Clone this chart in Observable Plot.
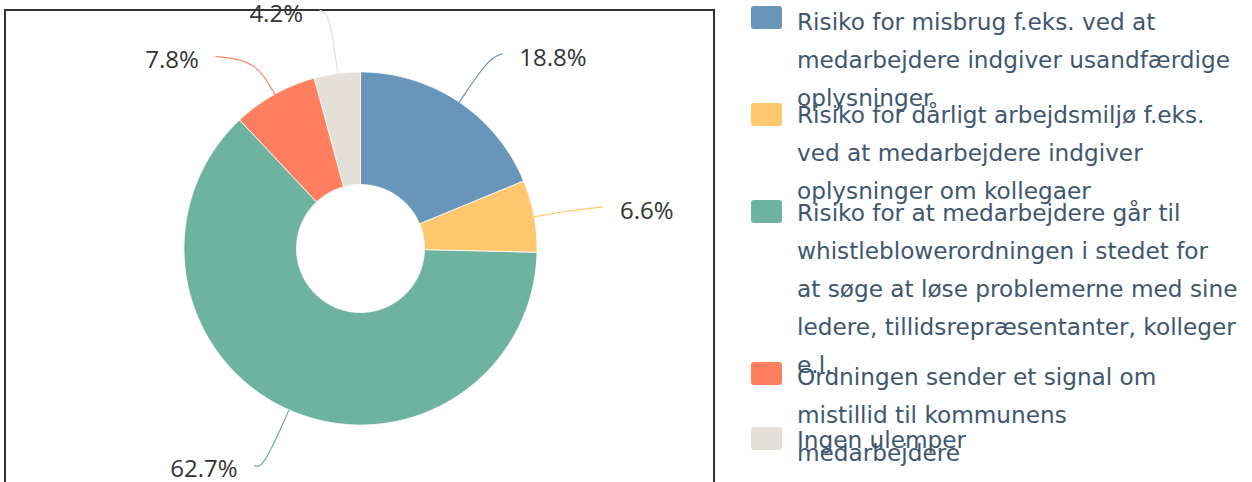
<!DOCTYPE html>
<html><head><meta charset="utf-8">
<script src="https://cdn.jsdelivr.net/npm/d3@7"></script>
<script src="https://cdn.jsdelivr.net/npm/@observablehq/plot@0.6"></script>
<style>
html,body{margin:0;padding:0;background:#fff;overflow:hidden}
#wrap{position:relative;width:1252px;height:482px}
#box{position:absolute;left:4px;top:9px;width:711px;height:480px;border:2px solid #333;border-bottom:none;box-sizing:border-box}
#chart{position:absolute;left:0;top:0}
#legend{position:absolute;left:0;top:0;width:1252px;height:482px;font-family:"DejaVu Sans";font-size:23.2px;color:#3e576f}
.item{position:absolute;left:797px;line-height:38px;white-space:pre}
.sw{position:absolute;left:751px;width:31px;height:23px;border-radius:3px}
</style></head><body><div id="wrap"><div id="box"></div><div id="chart"></div><div id="legend"></div></div>
<script>
const categories = [
 "Risiko for misbrug f.eks. ved at\nmedarbejdere indgiver usandfærdige\noplysninger",
 "Risiko for dårligt arbejdsmiljø f.eks.\nved at medarbejdere indgiver\noplysninger om kollegaer",
 "Risiko for at medarbejdere går til\nwhistleblowerordningen i stedet for\nat søge at løse problemerne med sine\nledere, tillidsrepræsentanter, kolleger\ne.l.",
 "Ordningen sender et signal om\nmistillid til kommunens\nmedarbejdere",
 "Ingen ulemper"
];
const values = [18.8, 6.6, 62.7, 7.8, 4.2];
const colors = ["#6896ba", "#ffc86e", "#6eb3a0", "#ff7f60", "#e4e0d8"];

// layout
const W = 722, H = 482, cx = 360.5, cy = 248.5, R = 176.5, k = R;
const rIn = 64 / R;
const D = 236, labelCy = cy + 5, minGap = 46, yMin = 14, yMax = 470;

const rows = categories.map((c, i) => ({cat: c, value: values[i], label: values[i].toFixed(1) + "%"}));
const arcs = d3.pie().sort(null).value(d => d.value)(rows);

const ring = [];
for (const a of arcs) {
  const n = Math.max(2, Math.ceil((a.endAngle - a.startAngle) / 0.01));
  for (let j = 0; j <= n; j++) {
    const t = a.startAngle + (a.endAngle - a.startAngle) * j / n;
    ring.push({cat: a.data.cat, x1: Math.sin(t), y1: Math.cos(t), x2: rIn * Math.sin(t), y2: rIn * Math.cos(t)});
  }
}

// data labels (pixel space), with simple collision spreading
const labs = arcs.map(a => {
  const m = (a.startAngle + a.endAngle) / 2;
  const s = Math.sin(m) >= 0 ? 1 : -1;
  return {cat: a.data.cat, label: a.data.label, m, s, y: labelCy - D * Math.cos(m)};
});
for (const side of [1, -1]) {
  const L = labs.filter(d => d.s === side).sort((a, b) => a.y - b.y);
  for (let it = 0; it < 10; it++) {
    for (let i = 1; i < L.length; i++) {
      const gap = L[i].y - L[i - 1].y;
      if (gap < minGap) { const h = (minGap - gap) / 2; L[i - 1].y -= h; L[i].y += h; }
    }
  }
  for (const d of L) d.y = Math.max(yMin, Math.min(yMax, d.y));
  for (let i = 1; i < L.length; i++) L[i].y = Math.max(L[i].y, L[i - 1].y + minGap);
}
const conn = [];
for (const d of labs) {
  const dy = d.y - labelCy;
  const ax = Math.abs(dy) < D ? cx + d.s * Math.sqrt(D * D - dy * dy) : cx + D * Math.sin(d.m);
  const uy = (cy - d.y) / k;
  let t = uy / Math.cos(d.m);
  if (!(t > 1.05)) t = 1.05;
  d.tx = (ax + d.s * 27 - cx) / k;
  d.ty = uy;
  conn.push({cat: d.cat, x: Math.sin(d.m), y: Math.cos(d.m)});
  conn.push({cat: d.cat, x: t * Math.sin(d.m), y: uy});
  conn.push({cat: d.cat, x: (ax + d.s * 10 - cx) / k, y: uy + 4 / k});
}

const textOpts = {x: "tx", y: "ty", text: "label", fontSize: 24, fontFamily: "Open Sans", fill: "#333"};
const chart = Plot.plot({
  width: W, height: H, margin: 0,
  x: {domain: [-1, 1], range: [cx - R, cx + R], axis: null},
  y: {domain: [-1, 1], range: [cy + R, cy - R], axis: null},
  color: {domain: categories, range: colors},
  style: {background: "transparent", overflow: "visible"},
  marks: [
    Plot.area(ring, {x1: "x1", y1: "y1", x2: "x2", y2: "y2", z: "cat", fill: "cat", stroke: "white", strokeWidth: 0.8}),
    Plot.line(conn, {x: "x", y: "y", z: "cat", stroke: "cat", strokeWidth: 1.2, curve: "basis"}),
    Plot.text(labs.filter(d => d.s > 0), {...textOpts, textAnchor: "start"}),
    Plot.text(labs.filter(d => d.s < 0), {...textOpts, textAnchor: "end"})
  ]
});
document.getElementById("chart").appendChild(chart);

// legend
const itemTop = [3, 96, 194, 358, 421];
const swTop = [6, 103, 200, 362, 427];
const lg = document.getElementById("legend");
categories.forEach((c, i) => {
  const sw = document.createElement("div");
  sw.className = "sw"; sw.style.top = swTop[i] + "px"; sw.style.background = colors[i];
  lg.appendChild(sw);
  const t = document.createElement("div");
  t.className = "item"; t.style.top = itemTop[i] + "px"; t.textContent = c;
  lg.appendChild(t);
});
</script></body></html>
